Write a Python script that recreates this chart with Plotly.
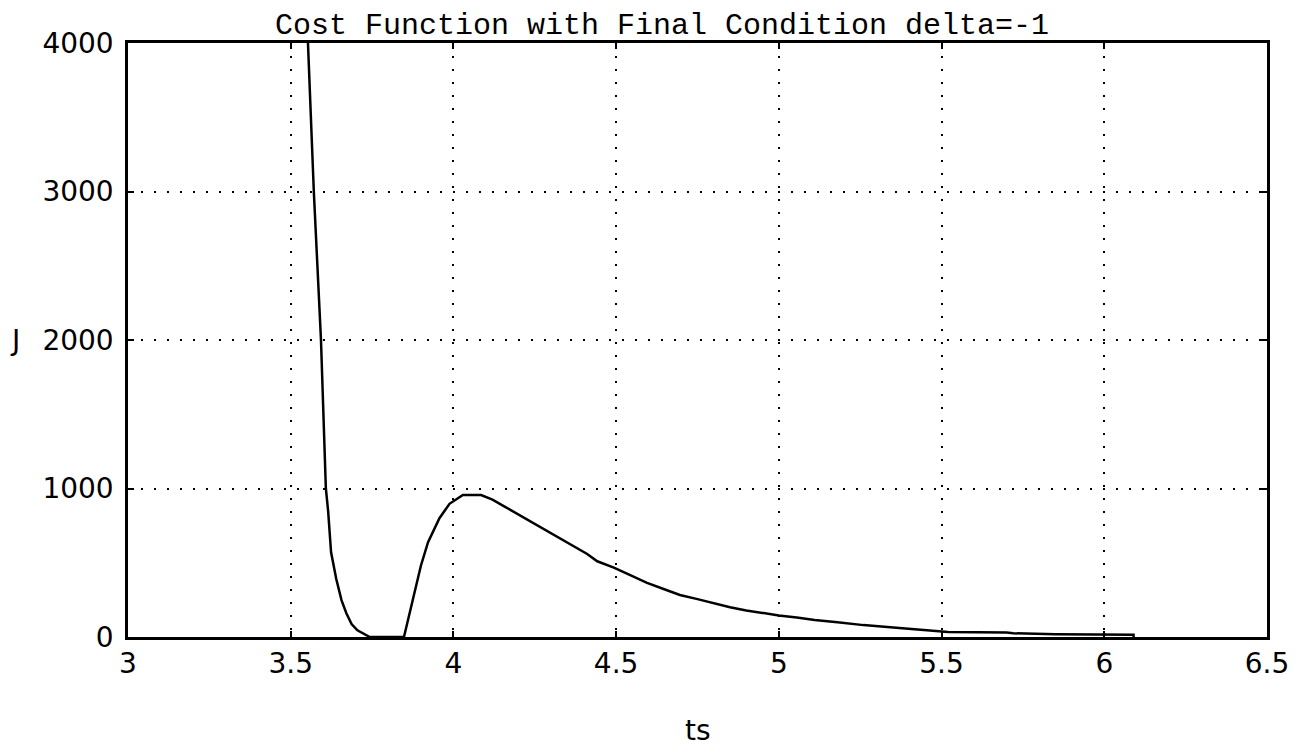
import plotly.graph_objects as go

# Cost function J versus ts
ts = [3.553, 3.571, 3.593, 3.608, 3.615, 3.624, 3.64, 3.656, 3.671, 3.687,
      3.705, 3.728, 3.743, 3.848, 3.865, 3.883, 3.90, 3.922, 3.94, 3.957,
      3.988, 4.029, 4.085, 4.12, 4.156, 4.228, 4.28, 4.33, 4.411, 4.442,
      4.493, 4.55, 4.595, 4.65, 4.696, 4.75, 4.80, 4.85, 4.90, 4.95,
      5.0, 5.055, 5.11, 5.18, 5.26, 5.37, 5.47, 5.50, 5.52, 5.70,
      5.72, 5.85, 6.09, 6.09]
J = [4000, 3000, 2000, 1000, 848, 570, 390, 248, 160, 87,
     45, 18, 0, 0, 160, 317, 480, 639, 720, 800,
     897, 956, 956, 925, 880, 788, 725, 662, 559, 510,
     467, 410, 365, 320, 283, 255, 228, 200, 179, 160,
     145, 131, 115, 100, 80, 60, 45, 41, 34, 30,
     25, 18, 15, 0]

x_ticks = [3, 3.5, 4, 4.5, 5, 5.5, 6, 6.5]
y_ticks = [0, 1000, 2000, 3000, 4000]

title_text = "Cost Function with Final Condition delta=-1"
x_label = "ts"
y_label = "J"

W, H = 1293, 740
ML, MR, MT, MB = 120, 24, 35, 111
plot_h = H - MT - MB

fig = go.Figure()
fig.add_trace(go.Scatter(
    x=ts, y=J, mode="lines",
    line=dict(color="black", width=2.5),
    showlegend=False,
))

axis_common = dict(
    showline=True, linecolor="black", linewidth=2.5, mirror="ticks",
    ticks="inside", ticklen=6, tickwidth=2, tickcolor="black",
    showgrid=True, gridcolor="black", gridwidth=1.5, griddash="2px,11px",
    zeroline=False,
    tickfont=dict(family="DejaVu Sans", size=28, color="black"),
)

fig.update_xaxes(range=[3, 6.5], tickvals=x_ticks,
                 ticktext=[f"{v:g}" for v in x_ticks], **axis_common)
fig.update_yaxes(range=[0, 4000], tickvals=y_ticks,
                 ticktext=[str(v) for v in y_ticks], ticklabelstandoff=6,
                 **axis_common)

fig.add_annotation(text=title_text, xref="paper", yref="paper",
                   x=0.469, y=1 + MT / plot_h, xanchor="center", yanchor="top",
                   showarrow=False, borderpad=0,
                   font=dict(family="Liberation Mono", size=30, color="black"))
fig.add_annotation(text=x_label, xref="paper", yref="paper",
                   x=0.5, y=-MB / plot_h, xanchor="center", yanchor="bottom",
                   showarrow=False, borderpad=0,
                   font=dict(family="DejaVu Sans", size=28, color="black"))
fig.add_annotation(text=y_label, xref="paper", yref="y",
                   x=0, y=2000, xanchor="right", yanchor="middle", xshift=-106,
                   showarrow=False,
                   font=dict(family="DejaVu Sans", size=28, color="black"))

# page body has an 8px margin, so the figure is sized to fit inside the window
fig.update_layout(
    width=W, height=H,
    margin=dict(l=ML, r=MR, t=MT, b=MB),
    paper_bgcolor="white", plot_bgcolor="white",
)

fig.write_html("out.html")
